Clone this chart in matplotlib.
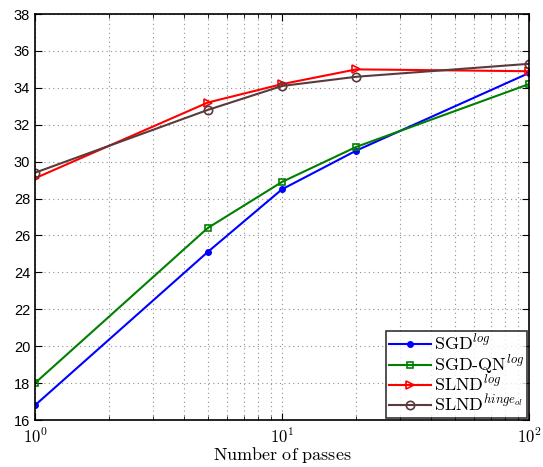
import numpy as np
import matplotlib
matplotlib.use('Agg')
import matplotlib.pyplot as plt
from matplotlib.ticker import FuncFormatter, LogLocator

passes = [1, 5, 10, 20, 100]
sgd_log = [16.8, 25.1, 28.5, 30.6, 34.8]
sgdqn_log = [18.0, 26.4, 28.9, 30.8, 34.2]
slnd_log = [29.1, 33.2, 34.2, 35.0, 34.9]
slnd_hinge = [29.4, 32.8, 34.1, 34.6, 35.3]

labels = [r'$\mathrm{SGD}^{log}$', r'$\mathrm{SGD\text{-}QN}^{log}$',
          r'$\mathrm{SLND}^{log}$', r'$\mathrm{SLND}^{hinge_{ol}}$']

plt.rcParams['mathtext.fontset'] = 'cm'
plt.rcParams['font.family'] = ['Liberation Sans', 'DejaVu Sans']

fig = plt.figure(figsize=(5.43, 4.67), dpi=100)
sub = fig.add_axes([0.0645, 0.1006, 0.9095, 0.8694])

sub.plot(passes, sgd_log, c='#0000ff', lw=1.5, marker='o', ms=4, label=labels[0])
sub.plot(passes, sgdqn_log, c='#008000', lw=1.5, marker='s', ms=5, mfc='none', mew=1.2, label=labels[1])
sub.plot(passes, slnd_log, c='#ff0000', lw=1.5, marker='>', ms=6, mfc='none', mew=1.2, label=labels[2])
sub.plot(passes, slnd_hinge, c='#5a3a3a', lw=1.5, marker='o', ms=6, mfc='none', mew=1.2, label=labels[3])

sub.set_xscale('log')
sub.set_xlim([1, 100])
sub.set_ylim([16, 38])
sub.set_yticks(np.arange(16, 39, 2))
sub.xaxis.set_major_formatter(FuncFormatter(lambda v, p: r'$\mathsf{10^{%d}}$' % int(round(np.log10(v)))))
sub.xaxis.set_minor_locator(LogLocator(base=10, subs=np.arange(2, 10)))
sub.grid(True, which='both', ls=(0, (1, 3)), c='#909090', lw=0.8)
sub.tick_params(which='both', direction='in', top=True, right=True, labelsize=10.5)
sub.tick_params(axis='x', labelsize=12)
sub.tick_params(which='major', length=5)
sub.tick_params(which='minor', length=3)
sub.tick_params(axis='x', pad=5)
for s in sub.spines.values():
    s.set_linewidth(1.2)

sub.set_xlabel(r'$\mathrm{Number\ of\ passes}$', fontsize=13, labelpad=-1)
sub.set_ylabel(r'$\mathrm{Accuracy}$', fontsize=13)
sub.yaxis.set_label_coords(-0.068, 0.5)

leg = sub.legend(loc='lower right', fontsize=13, frameon=True, fancybox=False,
                 edgecolor='black', borderpad=0.15, labelspacing=-0.05,
                 handlelength=2.3, handletextpad=0.2, borderaxespad=0.1)
leg.get_frame().set_linewidth(1.2)

fig.savefig('out.png', dpi=100)
plt.close()
